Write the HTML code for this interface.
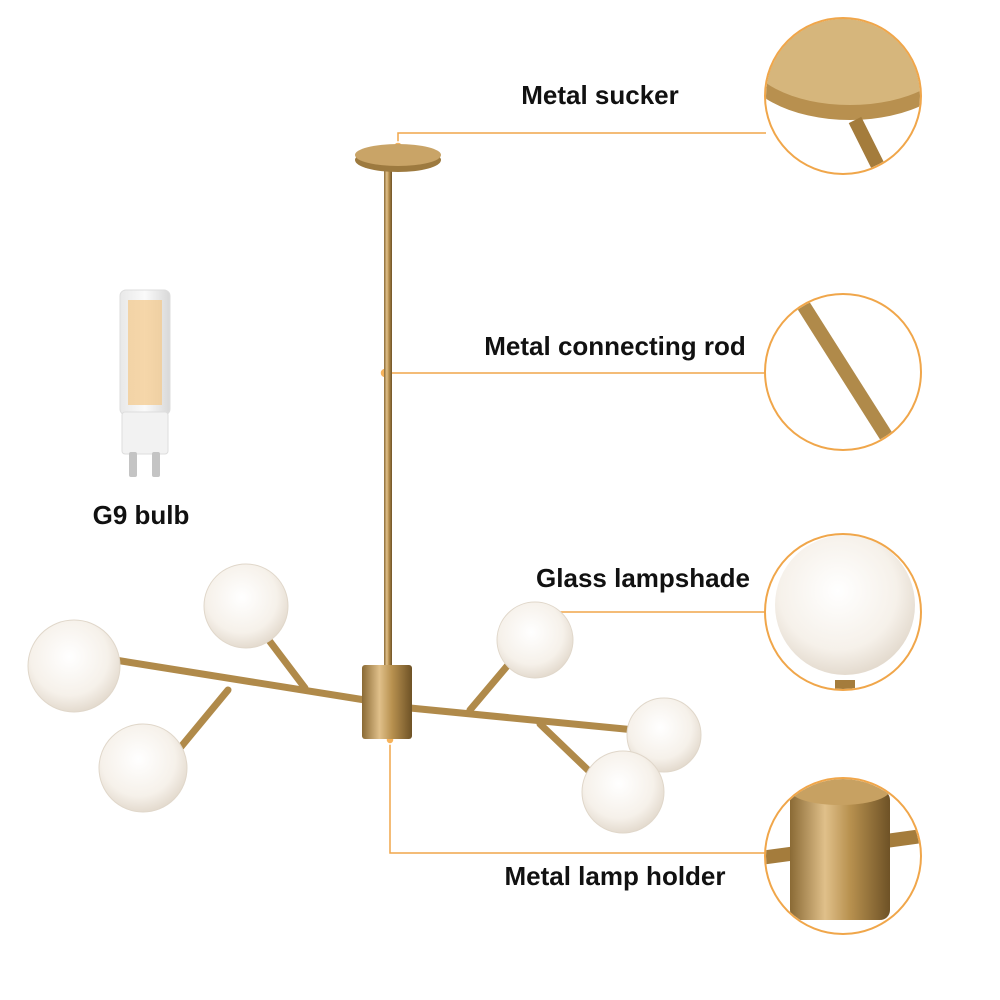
<!DOCTYPE html>
<html><head><meta charset="utf-8"><style>
html,body{margin:0;padding:0;background:#fff;}
svg{display:block}
text{font-family:"Liberation Sans",sans-serif;font-weight:bold;fill:#111;}
</style></head><body>
<svg width="1000" height="1000" viewBox="0 0 1000 1000" xmlns="http://www.w3.org/2000/svg">
<defs>
<radialGradient id="glob" cx="0.45" cy="0.4" r="0.6">
<stop offset="0" stop-color="#ffffff"/><stop offset="0.7" stop-color="#f6f1ea"/><stop offset="1" stop-color="#e4dbcf"/>
</radialGradient>
<linearGradient id="brass" x1="0" x2="1" y1="0" y2="0">
<stop offset="0" stop-color="#8a6a35"/><stop offset="0.35" stop-color="#e0c08a"/><stop offset="0.6" stop-color="#b8914f"/><stop offset="1" stop-color="#6e5226"/>
</linearGradient>
<linearGradient id="bulb" x1="0" x2="1">
<stop offset="0" stop-color="#e8e8e8"/><stop offset="0.5" stop-color="#fafafa"/><stop offset="1" stop-color="#d8d8d8"/>
</linearGradient>
<clipPath id="c1"><circle cx="843" cy="96" r="77"/></clipPath>
<clipPath id="c2"><circle cx="843" cy="372" r="77"/></clipPath>
<clipPath id="c3"><circle cx="843" cy="612" r="77"/></clipPath>
<clipPath id="c4"><circle cx="843" cy="856" r="77"/></clipPath>
</defs>

<!-- connectors -->
<g stroke="#f0a64a" stroke-width="1.5" fill="none">
<polyline points="398,146 398,133 766,133"/>
<line x1="385" y1="373" x2="766" y2="373"/>
<line x1="545" y1="612" x2="766" y2="612"/>
<polyline points="390,740 390,853 766,853"/>
</g>
<g fill="#f6b25a" stroke="#fff" stroke-width="1.5">
<circle cx="398" cy="147" r="5"/>
<circle cx="385" cy="373" r="5"/>
<circle cx="545" cy="612" r="6"/>
<circle cx="390" cy="740" r="4"/>
</g>

<!-- rod & canopy -->
<rect x="384" y="165" width="8" height="505" fill="url(#brass)"/>
<ellipse cx="398" cy="160" rx="43" ry="12" fill="#9d7a3f"/>
<ellipse cx="398" cy="155" rx="43" ry="11" fill="#c9a467"/>

<!-- arms -->
<g stroke="#b08a4a" stroke-width="7" stroke-linecap="round">
<line x1="115" y1="660" x2="365" y2="700"/>
<line x1="410" y1="708" x2="635" y2="730"/>
<line x1="265" y1="635" x2="305" y2="688"/>
<line x1="180" y1="748" x2="228" y2="690"/>
<line x1="508" y1="665" x2="470" y2="710"/>
<line x1="590" y1="772" x2="540" y2="724"/>
</g>
<rect x="362" y="665" width="50" height="74" rx="3" fill="url(#brass)"/>

<!-- globes -->
<g fill="url(#glob)" stroke="#e0d7ca" stroke-width="1">
<circle cx="74" cy="666" r="46"/>
<circle cx="246" cy="606" r="42"/>
<circle cx="143" cy="768" r="44"/>
<circle cx="535" cy="640" r="38"/>
<circle cx="664" cy="735" r="37"/>
<circle cx="623" cy="792" r="41"/>
</g>

<!-- bulb -->
<rect x="120" y="290" width="50" height="125" rx="6" fill="url(#bulb)" stroke="#ddd"/>
<g fill="#f3c887">
<rect x="128" y="300" width="34" height="105" opacity="0.7"/>
</g>
<rect x="122" y="412" width="46" height="42" rx="3" fill="#f2f2f2" stroke="#ddd"/>
<rect x="129" y="452" width="8" height="25" rx="2" fill="#c4c4c4"/>
<rect x="152" y="452" width="8" height="25" rx="2" fill="#c4c4c4"/>

<!-- labels -->
<text x="600" y="104" font-size="26" text-anchor="middle">Metal sucker</text>
<text x="615" y="355" font-size="26" text-anchor="middle">Metal connecting rod</text>
<text x="643" y="587" font-size="26" text-anchor="middle">Glass lampshade</text>
<text x="615" y="885" font-size="26" text-anchor="middle">Metal lamp holder</text>
<text x="141" y="524" font-size="26" text-anchor="middle">G9 bulb</text>

<!-- detail circles -->
<g clip-path="url(#c1)">
<ellipse cx="850" cy="60" rx="110" ry="60" fill="#b8904f"/>
<ellipse cx="850" cy="50" rx="105" ry="55" fill="#d6b67c"/>
<line x1="855" y1="120" x2="890" y2="190" stroke="#a47c3c" stroke-width="14"/>
</g>
<g clip-path="url(#c2)">
<line x1="800" y1="300" x2="895" y2="450" stroke="#b08a4a" stroke-width="14"/>
</g>
<g clip-path="url(#c3)">
<circle cx="845" cy="605" r="70" fill="url(#glob)"/>
<rect x="835" y="680" width="20" height="20" fill="#a47c3c"/>
</g>
<g clip-path="url(#c4)">
<line x1="760" y1="858" x2="930" y2="835" stroke="#a47c3c" stroke-width="14"/>
<rect x="790" y="790" width="100" height="130" rx="10" fill="url(#brass)"/>
<ellipse cx="840" cy="790" rx="50" ry="15" fill="#c7a162"/>
</g>
<g fill="none" stroke="#f0a64a" stroke-width="2">
<circle cx="843" cy="96" r="78"/>
<circle cx="843" cy="372" r="78"/>
<circle cx="843" cy="612" r="78"/>
<circle cx="843" cy="856" r="78"/>
</g>
</svg>
</body></html>
